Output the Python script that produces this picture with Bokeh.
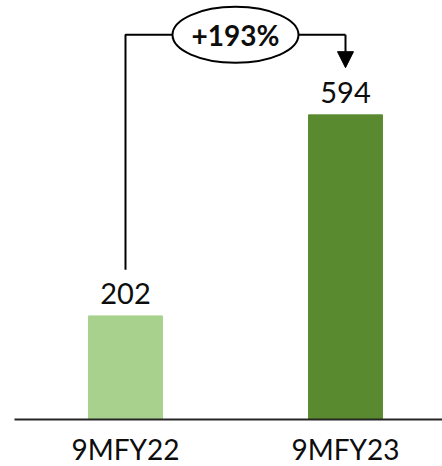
from bokeh.plotting import figure
from bokeh.models import ColumnDataSource, FixedTicker, Range1d, Arrow, NormalHead
from bokeh.core.properties import value
from bokeh.embed import file_html
from bokeh.resources import INLINE

# Data
categories = ["9MFY22", "9MFY23"]
amounts = [202, 594]
bar_colors = ["#A9D18E", "#5A8A2F"]
growth_label = "+193%"

FONT = "Lato"
TEXT_COLOR = "#0d0d0d"

x_pos = list(range(len(categories)))
source = ColumnDataSource(dict(
    x=x_pos,
    amount=amounts,
    color=bar_colors,
    label=[str(a) for a in amounts],
))

p = figure(
    width=442, height=466,
    frame_width=428, frame_height=419,
    x_range=Range1d(-0.5045, 1.4409),
    y_range=Range1d(0, 817),
    output_backend="svg", toolbar_location=None,
    min_border_left=14, min_border_right=0, min_border_top=0, min_border_bottom=0,
)
p.outline_line_color = None
p.grid.visible = False
p.yaxis.visible = False
p.background_fill_color = "white"
p.border_fill_color = "white"

# Bars
p.vbar(x="x", top="amount", bottom=0, width=0.336, color="color", source=source)

# Value labels above bars
p.text(x="x", y="amount", text="label", source=source,
       text_font=value(FONT), text_font_size="29px", text_color=TEXT_COLOR,
       text_align="center", text_baseline="alphabetic", y_offset=-22)

# Category axis along the baseline
ax = p.xaxis[0]
ax.ticker = FixedTicker(ticks=x_pos)
ax.major_label_overrides = {i: c for i, c in enumerate(categories)}
ax.major_tick_line_color = None
ax.minor_tick_line_color = None
ax.major_tick_out = 0
ax.major_tick_in = 0
ax.axis_line_color = "#262626"
ax.axis_line_width = 2
ax.major_label_text_font = FONT
ax.major_label_text_font_size = "28px"
ax.major_label_text_color = TEXT_COLOR
ax.major_label_standoff = 12

# Growth connector: up from the first bar, across, down to the second bar
link_y = 750
p.line(x=[x_pos[0], x_pos[0], x_pos[1]], y=[292, link_y, link_y],
       line_color="black", line_width=2)
p.add_layout(Arrow(
    x_start=x_pos[1], y_start=link_y, x_end=x_pos[1], y_end=686,
    line_color="black", line_width=2,
    end=NormalHead(size=16, fill_color="black", line_color="black"),
))

# Growth bubble
mid_x = (x_pos[0] + x_pos[1]) / 2
p.ellipse(x=[mid_x], y=[link_y], width=126, height=56,
          width_units="screen", height_units="screen",
          fill_color="white", line_color="black", line_width=2)
p.text(x=[mid_x], y=[link_y], text=[growth_label],
       text_font=value(FONT), text_font_size="28px", text_font_style="bold",
       text_color=TEXT_COLOR, text_align="center", text_baseline="middle")

open("out.html", "w").write(file_html(p, INLINE))
